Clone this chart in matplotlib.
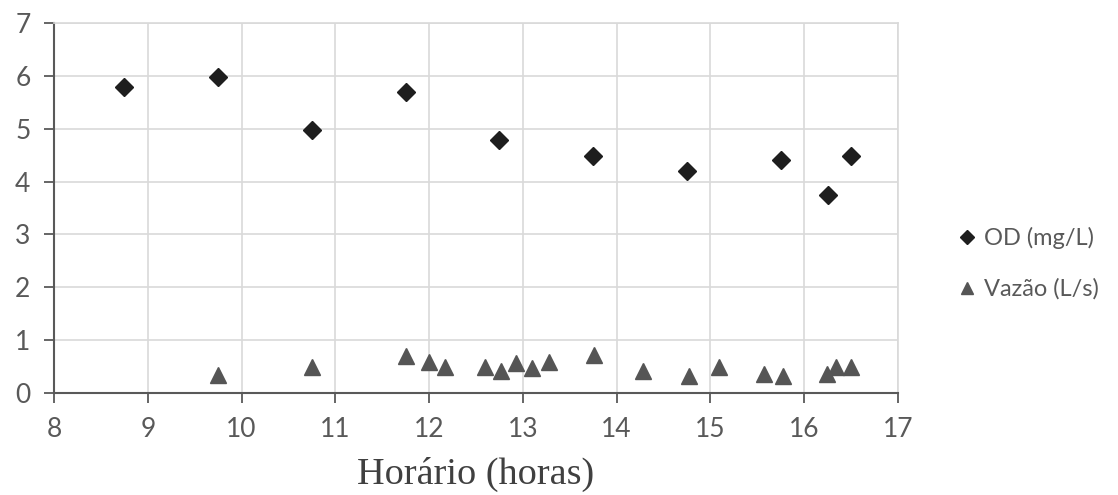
import matplotlib
matplotlib.use("Agg")
import matplotlib.pyplot as plt

# data
od_hora = [8.75, 9.75, 10.75, 11.75, 12.75, 13.75, 14.75, 15.75, 16.25, 16.5]
od_valor = [5.78, 5.98, 4.98, 5.7, 4.79, 4.48, 4.2, 4.41, 3.74, 4.48]

vazao_hora = [9.75, 10.75, 11.75, 12.0, 12.17, 12.6, 12.77, 12.93, 13.1, 13.28,
              13.76, 14.28, 14.77, 15.09, 15.57, 15.77, 16.24, 16.34, 16.5]
vazao_valor = [0.34, 0.5, 0.7, 0.59, 0.5, 0.5, 0.42, 0.56, 0.47, 0.58,
               0.71, 0.42, 0.33, 0.5, 0.36, 0.33, 0.36, 0.5, 0.5]

x_ticks = list(range(8, 18))
y_ticks = list(range(0, 8))

fig = plt.figure(figsize=(11.18, 4.95), dpi=100)
ax = fig.add_axes([54 / 1118, 1 - 393 / 495, 844 / 1118, 370 / 495])

ax.plot(od_hora, od_valor, linestyle="none", marker="D", ms=9.2,
        color="#1e1e1e", mec="#1e1e1e", label="OD (mg/L)", zorder=3, clip_on=False)
ax.plot(vazao_hora, vazao_valor, linestyle="none", marker="^", ms=12,
        color="#555555", mec="#555555", label="Vazão (L/s)", zorder=3, clip_on=False)

ax.set_xlim(8, 17)
ax.set_ylim(0, 7)
ax.set_xticks(x_ticks)
ax.set_yticks(y_ticks)
ax.grid(True, color="#d9d9d9", linewidth=1.2)
ax.set_axisbelow(True)

for s in ["top", "right"]:
    ax.spines[s].set_color("#d9d9d9")
    ax.spines[s].set_linewidth(1.2)
for s in ["left", "bottom"]:
    ax.spines[s].set_color("#595959")
    ax.spines[s].set_linewidth(1.5)

ax.tick_params(axis="both", direction="out", length=7, width=1.3, color="#595959",
               labelcolor="#595959", labelsize=19)
ax.tick_params(axis="x", pad=10)
ax.tick_params(axis="y", pad=10)
for lab in ax.get_xticklabels() + ax.get_yticklabels():
    lab.set_family("Lato")

ax.set_xlabel("Horário (horas)", family="Liberation Serif", fontsize=27.5,
              color="#404040", labelpad=11)

leg = ax.legend(loc="center left", bbox_to_anchor=(1.05, 0.35), frameon=False,
                handlelength=0.5, handletextpad=0.45, labelspacing=1.25,
                markerscale=0.75, prop={"family": "Lato", "size": 17})
for t in leg.get_texts():
    t.set_color("#595959")

fig.savefig("out.png", dpi=100)
